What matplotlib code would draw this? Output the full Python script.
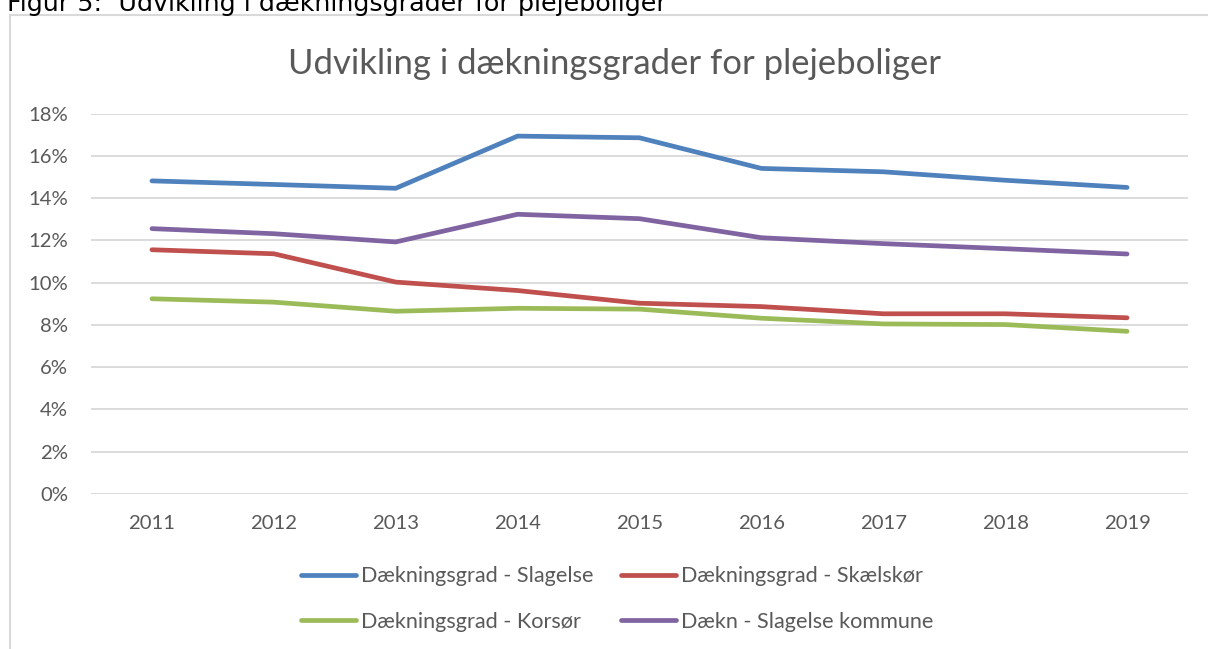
import matplotlib
matplotlib.use("Agg")
import matplotlib.pyplot as plt
from matplotlib.patches import Rectangle
from matplotlib.ticker import FuncFormatter, MultipleLocator

# ---- data (percent) ----
years = ["2011", "2012", "2013", "2014", "2015", "2016", "2017", "2018", "2019"]
slagelse = [14.82, 14.65, 14.47, 16.94, 16.86, 15.41, 15.25, 14.85, 14.51]
skaelskoer = [11.56, 11.37, 10.03, 9.63, 9.03, 8.87, 8.53, 8.53, 8.34]
korsoer = [9.24, 9.08, 8.65, 8.79, 8.75, 8.32, 8.05, 8.02, 7.70]
kommune = [12.56, 12.32, 11.93, 13.24, 13.03, 12.13, 11.85, 11.61, 11.36]

series_names = ["Dækningsgrad - Slagelse", "Dækningsgrad - Skælskør",
                "Dækningsgrad - Korsør", "Dækn - Slagelse kommune"]
colors = ["#4f81bd", "#c0504d", "#9bbb59", "#8064a2"]
caption = "Figur 5:  Udvikling i dækningsgrader for plejeboliger"
title = "Udvikling i dækningsgrader for plejeboliger"

W, H = 1208, 649
DPI = 100
FONT = ["Lato", "DejaVu Sans"]
GRAY = "#595959"
PT = 72 / DPI  # points per pixel

fig = plt.figure(figsize=(W / DPI, H / DPI), dpi=DPI)
fig.patch.set_facecolor("white")


def px_x(x):
    return x / W


def px_y(y):
    return 1 - y / H


# chart frame (light grey border, cut by image edges)
fig.patches.append(Rectangle((px_x(10), px_y(H + 20)), px_x(W + 20), (H + 5) / H,
                             transform=fig.transFigure, fill=False,
                             edgecolor="#d9d9d9", linewidth=1.5))

# axes
left, right, top, bottom = 91, 1188, 113.7, 494
ax = fig.add_axes([px_x(left), px_y(bottom), (right - left) / W, (bottom - top) / H])
x = list(range(len(years)))
data = [slagelse, skaelskoer, korsoer, kommune]
lines = []
for vals, name, c in zip(data, series_names, colors):
    ln, = ax.plot(x, vals, color=c, lw=3.4, solid_capstyle="round",
                  solid_joinstyle="round", label=name, zorder=3)
    lines.append(ln)

ax.set_xlim(-0.5, len(years) - 0.5)
ax.set_ylim(0, 18)
ax.yaxis.set_major_locator(MultipleLocator(2))
ax.yaxis.set_major_formatter(FuncFormatter(lambda v, p: f"{v:.0f}%"))
ax.set_xticks(x)
ax.set_xticklabels(years)
ax.grid(axis="y", color="#d9d9d9", lw=1.3, zorder=0)
ax.set_axisbelow(True)
for s in ax.spines.values():
    s.set_visible(False)
ax.tick_params(length=0, colors=GRAY, labelsize=14)
ax.tick_params(axis="y", pad=23 * PT)
ax.tick_params(axis="x", pad=21 * PT)
for lab in ax.get_xticklabels() + ax.get_yticklabels():
    lab.set_family(FONT)

# title & caption
t_title = fig.text(px_x(614), px_y(73.5), title, ha="center", va="baseline",
                   color=GRAY, fontsize=22, family=FONT)
t_cap = fig.text(px_x(7), px_y(11), caption, ha="left", va="baseline",
                 color="black", fontsize=13, family=["DejaVu Sans"])


def width_of(text):
    fig.canvas.draw()
    return text.get_window_extent(fig.canvas.get_renderer()).width


def fit(text, target_px):
    text.set_fontsize(text.get_fontsize() * target_px / width_of(text))


fit(t_title, 650)
fit(t_cap, 663)

# tick label sizing: "2011" ~47 px wide
w = width_of(ax.get_xticklabels()[0])
ax.tick_params(labelsize=14 * 47 / w)

# legend font size from reference label width (233 px)
probe = fig.text(0, 0, series_names[0], fontsize=14, family=FONT)
lfs = 14 * 233 / width_of(probe)
probe.remove()
lpx = lfs / PT  # font size in pixels

order = [0, 2, 1, 3]
leg = fig.legend([lines[i] for i in order], [series_names[i] for i in order],
                 ncol=2, loc="center", bbox_to_anchor=(px_x(617), px_y(599)),
                 frameon=False, fontsize=lfs, handlelength=55 / lpx,
                 handletextpad=5 / lpx, columnspacing=28 / lpx,
                 labelspacing=25 / lpx)
for t in leg.get_texts():
    t.set_color(GRAY)
    t.set_family(FONT)

fig.savefig("out.png", dpi=DPI, facecolor="white")
